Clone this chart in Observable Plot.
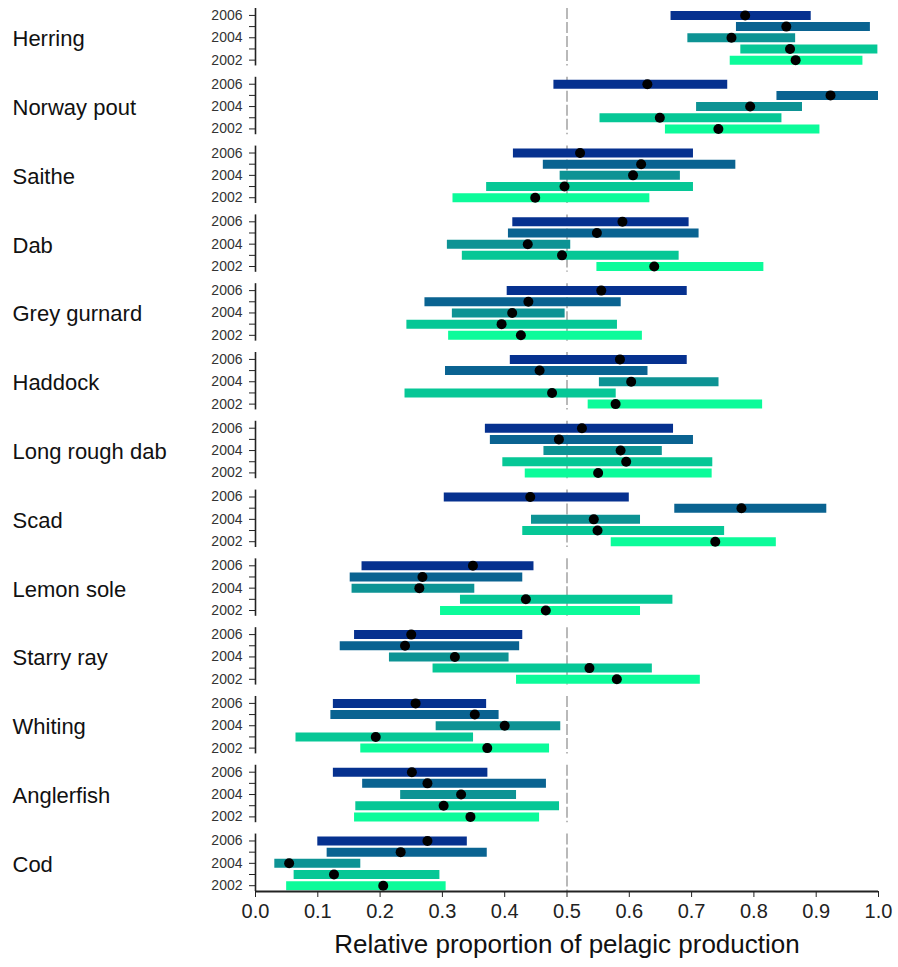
<!DOCTYPE html>
<html>
<head>
<meta charset="utf-8">
<script src="https://cdn.jsdelivr.net/npm/d3@7"></script>
<script src="https://cdn.jsdelivr.net/npm/@observablehq/plot@0.6"></script>
<style>
  html, body { margin: 0; padding: 0; background: #fff; }
  #chart svg { display: block; }
</style>
</head>
<body>
<div id="chart"></div>
<script>
const species = ["Herring", "Norway pout", "Saithe", "Dab", "Grey gurnard", "Haddock",
  "Long rough dab", "Scad", "Lemon sole", "Starry ray", "Whiting", "Anglerfish", "Cod"];
const years = [2006, 2005, 2004, 2003, 2002];
const yearColors = ["#06318f", "#0a6391", "#0d9394", "#06c796", "#0cfb9a"];
const yearTicks = [2002, 2003, 2004, 2005, 2006];
const xTicks = [0, 0.1, 0.2, 0.3, 0.4, 0.5, 0.6, 0.7, 0.8, 0.9, 1.0];
const xLabel = "Relative proportion of pelagic production";

// per species, values for years 2006, 2005, 2004, 2003, 2002
const lows = [
  [0.667, 0.772, 0.694, 0.779, 0.762],
  [0.479, 0.837, 0.708, 0.553, 0.658],
  [0.414, 0.462, 0.489, 0.371, 0.317],
  [0.413, 0.406, 0.308, 0.332, 0.548],
  [0.404, 0.272, 0.316, 0.243, 0.310],
  [0.409, 0.305, 0.552, 0.240, 0.534],
  [0.369, 0.377, 0.463, 0.397, 0.433],
  [0.303, 0.673, 0.443, 0.429, 0.571],
  [0.171, 0.152, 0.155, 0.329, 0.297],
  [0.159, 0.136, 0.215, 0.285, 0.419],
  [0.125, 0.121, 0.290, 0.065, 0.169],
  [0.125, 0.172, 0.233, 0.161, 0.159],
  [0.100, 0.115, 0.031, 0.062, 0.050]
];
const estimates = [
  [0.786, 0.852, 0.764, 0.858, 0.867],
  [0.629, 0.923, 0.794, 0.649, 0.743],
  [0.521, 0.619, 0.606, 0.496, 0.449],
  [0.589, 0.548, 0.437, 0.492, 0.640],
  [0.555, 0.438, 0.412, 0.395, 0.426],
  [0.585, 0.456, 0.603, 0.476, 0.578],
  [0.524, 0.487, 0.586, 0.595, 0.550],
  [0.441, 0.780, 0.543, 0.549, 0.738],
  [0.349, 0.268, 0.263, 0.434, 0.466],
  [0.250, 0.240, 0.320, 0.536, 0.580],
  [0.257, 0.352, 0.400, 0.193, 0.372],
  [0.251, 0.276, 0.330, 0.302, 0.345],
  [0.276, 0.233, 0.054, 0.126, 0.205]
];
const highs = [
  [0.892, 0.987, 0.867, 0.999, 0.975],
  [0.758, 1.000, 0.878, 0.845, 0.906],
  [0.703, 0.771, 0.682, 0.703, 0.633],
  [0.696, 0.712, 0.506, 0.680, 0.816],
  [0.693, 0.587, 0.497, 0.581, 0.621],
  [0.693, 0.630, 0.744, 0.579, 0.814],
  [0.671, 0.703, 0.653, 0.734, 0.733],
  [0.600, 0.917, 0.618, 0.753, 0.836],
  [0.447, 0.429, 0.352, 0.670, 0.618],
  [0.429, 0.424, 0.407, 0.637, 0.714],
  [0.371, 0.391, 0.490, 0.350, 0.472],
  [0.373, 0.467, 0.419, 0.488, 0.456],
  [0.340, 0.372, 0.169, 0.296, 0.306]
];

const rows = [];
species.forEach((s, i) => {
  years.forEach((y, j) => {
    rows.push({species: s, year: y, lo: lows[i][j], est: estimates[i][j], hi: highs[i][j]});
  });
});

const yMin = 2001.48, yMax = 2006.62;
const font = "'Liberation Sans', Arial, Helvetica, sans-serif";

const chart = Plot.plot({
  width: 898,
  height: 967,
  marginTop: 8,
  marginBottom: 76,
  marginLeft: 255,
  marginRight: 20,
  style: {fontFamily: font, background: "#fff", color: "#222"},
  x: {domain: [0, 1]},
  y: {domain: [yMin, yMax]},
  fy: {domain: species, paddingInner: 0.165, paddingOuter: 0, round: false, axis: null, label: null},
  color: {type: "ordinal", domain: years, range: yearColors},
  marks: [
    Plot.ruleX([0.5], {stroke: "#a8a8a8", strokeWidth: 1.6, strokeDasharray: "11,3"}),
    Plot.ruleY(rows, {fy: "species", y: "year", x1: "lo", x2: "hi", stroke: "year", strokeWidth: 9}),
    Plot.dot(rows, {fy: "species", x: "est", y: "year", r: 5, fill: "#000", stroke: "none"}),
    Plot.ruleX([0], {stroke: "#222", strokeWidth: 1.6}),
    Plot.ruleY([{s: "Cod", y: yMin}], {fy: "s", y: "y", stroke: "#222", strokeWidth: 1.8}),
    Plot.axisY({ticks: yearTicks, tickFormat: d => d % 2 === 0 ? String(d) : "", tickSize: 6,
      tickPadding: 7, fontSize: 14, label: null, stroke: "#222", fill: "#333"}),
    Plot.axisX({ticks: xTicks, tickFormat: d => d.toFixed(1), tickSize: 6, tickPadding: 6,
      fontSize: 20, label: null, stroke: "#222", fill: "#222"}),
    Plot.text(species, {fy: d => d, text: d => d, frameAnchor: "left", dx: 12 - 255, dy: 2,
      textAnchor: "start", fontSize: 22, fill: "#111"}),
    Plot.text([{s: "Cod", x: 0.5}], {fy: "s", x: "x", text: () => xLabel, frameAnchor: "bottom",
      dy: 61, fontSize: 26, fill: "#111"})
  ]
});
document.getElementById("chart").appendChild(chart);
</script>
</body>
</html>
